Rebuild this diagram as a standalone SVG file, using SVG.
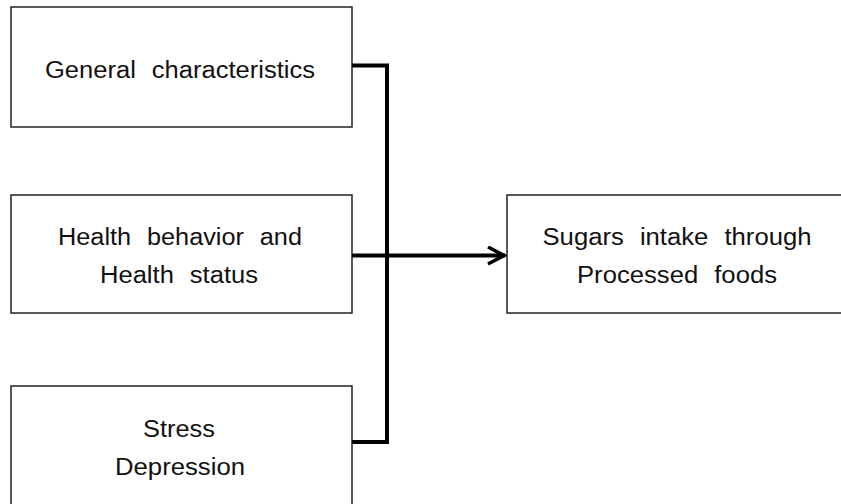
<svg xmlns="http://www.w3.org/2000/svg" width="841" height="504" viewBox="0 0 841 504">
<style>
.box{fill:#fff;stroke:#222;stroke-width:1.5}
.t{font-family:"Liberation Sans",Arial,sans-serif;font-size:23px;fill:#111;text-anchor:middle;word-spacing:8px}
.c{fill:none;stroke:#000;stroke-width:4;stroke-linecap:butt;stroke-linejoin:miter}
</style>
<defs>
<marker id="arr" markerWidth="20" markerHeight="22" refX="18" refY="10" orient="auto" markerUnits="userSpaceOnUse">
<path d="M1,1.5 L17,10 L1,18.5" fill="none" stroke="#000" stroke-width="3.5"/>
</marker>
</defs>
<g id="node-general">
<rect class="box" x="11" y="7" width="341" height="120"/>
<text class="t" x="180" y="78" textLength="270" lengthAdjust="spacingAndGlyphs">General characteristics</text>
</g>
<g id="node-health">
<rect class="box" x="11" y="195" width="341" height="118"/>
<text class="t" x="180" y="245" textLength="244" lengthAdjust="spacingAndGlyphs">Health behavior and</text>
<text class="t" x="179" y="283" textLength="158" lengthAdjust="spacingAndGlyphs">Health status</text>
</g>
<g id="node-stress">
<rect class="box" x="11" y="386" width="341" height="130"/>
<text class="t" x="179" y="437" textLength="72" lengthAdjust="spacingAndGlyphs">Stress</text>
<text class="t" x="180" y="475" textLength="130" lengthAdjust="spacingAndGlyphs">Depression</text>
</g>
<g id="node-sugars">
<rect class="box" x="507" y="195" width="345" height="118"/>
<text class="t" x="677" y="245" textLength="269" lengthAdjust="spacingAndGlyphs">Sugars intake through</text>
<text class="t" x="677" y="283" textLength="200" lengthAdjust="spacingAndGlyphs">Processed foods</text>
</g>
<g id="connectors">
<path class="c" d="M352,65.5 H387 V442 H352"/>
<path class="c" d="M352,255.5 H505" stroke-width="3" marker-end="url(#arr)"/>
</g>
</svg>
